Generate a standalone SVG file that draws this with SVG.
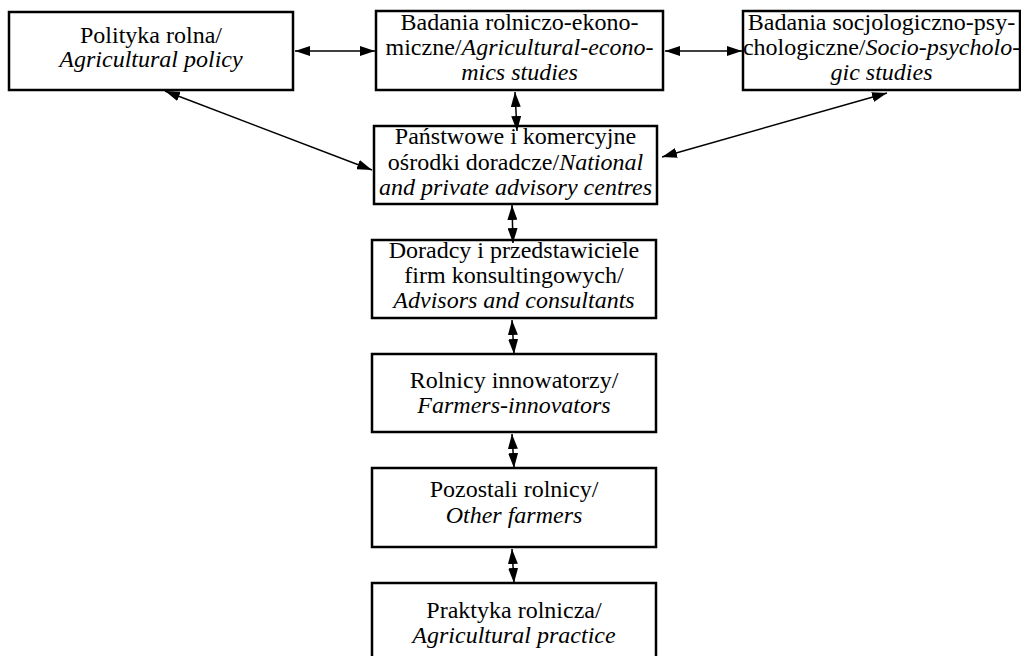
<svg xmlns="http://www.w3.org/2000/svg" width="1021" height="656" viewBox="0 0 1021 656" font-family="'Liberation Serif', 'Times New Roman', Times, 'DejaVu Serif', serif">
<style>
.box{fill:#fff;stroke:#000;stroke-width:2.5}
text{font-family:'Liberation Serif','Times New Roman',Times,'DejaVu Serif',serif;font-size:24px;fill:#000;text-anchor:middle}
.i{font-style:italic}
.c{stroke:#000;stroke-width:1.5;fill:none;marker-start:url(#ah);marker-end:url(#ah)}
</style>
<defs>
<marker id="ah" viewBox="0 0 15 10" refX="15" refY="5" markerWidth="15" markerHeight="10" markerUnits="userSpaceOnUse" orient="auto-start-reverse">
<path d="M0,0 L15,5 L0,10 z" fill="#000"/>
</marker>
</defs>
<g id="n1"><rect class="box" x="9" y="12" width="284" height="78"/>
<text x="151" y="43">Polityka rolna/</text>
<text class="i" x="151" y="67">Agricultural policy</text></g>
<g id="n2"><rect class="box" x="376" y="11" width="287" height="79"/>
<text x="519.5" y="30">Badania rolniczo-ekono-</text>
<text x="519.5" y="55">miczne/<tspan class="i">Agricultural-econo-</tspan></text>
<text class="i" x="519.5" y="80">mics studies</text></g>
<g id="n3"><rect class="box" x="743" y="11" width="277" height="79"/>
<text x="881.5" y="30">Badania socjologiczno-psy-</text>
<text x="881.5" y="55">chologiczne/<tspan class="i">Socio-psycholo-</tspan></text>
<text class="i" x="881.5" y="80">gic studies</text></g>
<g id="n4"><rect class="box" x="374" y="126" width="283" height="78"/>
<text x="515.5" y="144">Państwowe i komercyjne</text>
<text x="515.5" y="170">ośrodki doradcze/<tspan class="i">National</tspan></text>
<text class="i" x="515.5" y="195">and private advisory centres</text></g>
<g id="n5"><rect class="box" x="372" y="240" width="284" height="78"/>
<text x="514" y="258">Doradcy i przedstawiciele</text>
<text x="514" y="283">firm konsultingowych/</text>
<text class="i" x="514" y="308">Advisors and consultants</text></g>
<g id="n6"><rect class="box" x="372" y="354" width="284" height="78"/>
<text x="514" y="388">Rolnicy innowatorzy/</text>
<text class="i" x="514" y="413">Farmers-innovators</text></g>
<g id="n7"><rect class="box" x="372" y="468" width="284" height="79"/>
<text x="514" y="497">Pozostali rolnicy/</text>
<text class="i" x="514" y="523">Other farmers</text></g>
<g id="n8"><rect class="box" x="372" y="583" width="284" height="80"/>
<text x="514" y="618">Praktyka rolnicza/</text>
<text class="i" x="514" y="643">Agricultural practice</text></g>
<g id="connectors">
<line class="c" x1="295" y1="51" x2="375" y2="51"/>
<line class="c" x1="665" y1="51" x2="742" y2="51"/>
<line class="c" x1="515" y1="92" x2="517" y2="131"/>
<line class="c" x1="165" y1="91" x2="372" y2="170"/>
<line class="c" x1="887" y1="93" x2="662" y2="157"/>
<line class="c" x1="512" y1="205" x2="513" y2="243"/>
<line class="c" x1="512" y1="320" x2="514" y2="354"/>
<line class="c" x1="512" y1="434" x2="514" y2="468"/>
<line class="c" x1="512" y1="549" x2="514" y2="583"/>
</g>
</svg>
